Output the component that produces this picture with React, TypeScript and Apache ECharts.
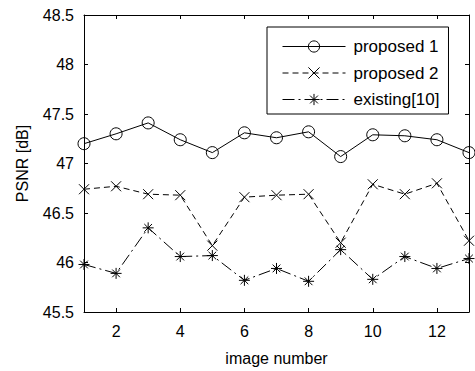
import React, { useEffect, useRef } from "react";
import * as echarts from "echarts";

const imageNumbers = [1, 2, 3, 4, 5, 6, 7, 8, 9, 10, 11, 12, 13];
const proposed1 = [47.2, 47.3, 47.41, 47.24, 47.11, 47.31, 47.26, 47.32, 47.07, 47.29, 47.28, 47.24, 47.11];
const proposed2 = [46.74, 46.77, 46.69, 46.68, 46.17, 46.66, 46.68, 46.69, 46.2, 46.79, 46.69, 46.8, 46.22];
const existing10 = [45.98, 45.89, 46.35, 46.06, 46.07, 45.82, 45.94, 45.81, 46.13, 45.83, 46.06, 45.94, 46.04];
const xTickValues = [2, 4, 6, 8, 10, 12];
const seriesNames = ["proposed 1", "proposed 2", "existing[10]"];

const FONT = "Liberation Sans, Arial, sans-serif";

const crossPath = "path://M0,0L10,10M10,0L0,10";
const starPath = "path://M5,0L5,10M0,5L10,5M1.5,1.5L8.5,8.5M8.5,1.5L1.5,8.5";

export default function App() {
  const ref = useRef<HTMLDivElement>(null);
  useEffect(() => {
    if (!ref.current) return;
    const chart = echarts.init(ref.current, undefined, { renderer: "svg" });
    const toPairs = (arr: number[]) => arr.map((v, i) => [imageNumbers[i], v]);
    const baseX = {
      type: "value" as const,
      min: 1,
      max: 13,
      axisLine: { show: true, onZero: false, lineStyle: { color: "#000", width: 1 } },
      axisTick: { show: true, inside: true, length: 4, customValues: xTickValues, lineStyle: { color: "#000" } },
      splitLine: { show: false },
    };
    const baseY = {
      type: "value" as const,
      min: 45.5,
      max: 48.5,
      interval: 0.5,
      axisLine: { show: true, onZero: false, lineStyle: { color: "#000", width: 1 } },
      axisTick: { show: true, inside: true, length: 4, lineStyle: { color: "#000" } },
      splitLine: { show: false },
    };
    chart.setOption({
      animation: false,
      backgroundColor: "#fff",
      grid: { left: 84, right: 6, top: 15, bottom: 58 },
      legend: {
        orient: "vertical",
        left: 267,
        top: 27,
        padding: [11, 9, 6, 15],
        itemWidth: 63,
        itemHeight: 14,
        itemGap: 9.5,
        borderColor: "#000",
        borderWidth: 1,
        backgroundColor: "#fff",
        selectedMode: false,
        data: seriesNames,
        lineStyle: { width: 1 },
        itemStyle: { borderWidth: 1 },
        textStyle: { color: "#000", fontFamily: FONT, fontSize: 17, padding: [0, 0, 0, 3] },
      },
      xAxis: [
        {
          ...baseX,
          position: "bottom",
          name: "image number",
          nameLocation: "middle",
          nameGap: 38,
          nameTextStyle: { color: "#000", fontFamily: FONT, fontSize: 16 },
          axisLabel: { show: true, customValues: xTickValues, color: "#000", fontFamily: FONT, fontSize: 16, margin: 11 },
        },
        { ...baseX, position: "top", axisLabel: { show: false } },
      ],
      yAxis: [
        {
          ...baseY,
          position: "left",
          name: "PSNR [dB]",
          nameLocation: "middle",
          nameGap: 54,
          nameTextStyle: { color: "#000", fontFamily: FONT, fontSize: 16 },
          axisLabel: { show: true, color: "#000", fontFamily: FONT, fontSize: 16, margin: 10 },
        },
        { ...baseY, position: "right", axisLabel: { show: false } },
      ],
      series: [
        {
          name: seriesNames[0],
          type: "line",
          data: toPairs(proposed1),
          symbol: "circle",
          symbolSize: 12,
          showAllSymbol: true,
          lineStyle: { color: "#000", width: 1, type: "solid" },
          itemStyle: { color: "rgba(0,0,0,0)", borderColor: "#000", borderWidth: 1 },
          emphasis: { disabled: true },
        },
        {
          name: seriesNames[1],
          type: "line",
          data: toPairs(proposed2),
          symbol: crossPath,
          symbolSize: 10,
          showAllSymbol: true,
          lineStyle: { color: "#000", width: 1, type: [6, 4] },
          itemStyle: { color: "rgba(0,0,0,0)", borderColor: "#000", borderWidth: 1 },
          emphasis: { disabled: true },
        },
        {
          name: seriesNames[2],
          type: "line",
          data: toPairs(existing10),
          symbol: starPath,
          symbolSize: 11,
          showAllSymbol: true,
          lineStyle: { color: "#000", width: 1, type: [12, 4, 2, 4] },
          itemStyle: { color: "rgba(0,0,0,0)", borderColor: "#000", borderWidth: 1 },
          emphasis: { disabled: true },
        },
      ],
    });
    return () => chart.dispose();
  }, []);
  return <div ref={ref} style={{ width: 475, height: 371, position: "absolute", left: 0, top: 0 }} />;
}
